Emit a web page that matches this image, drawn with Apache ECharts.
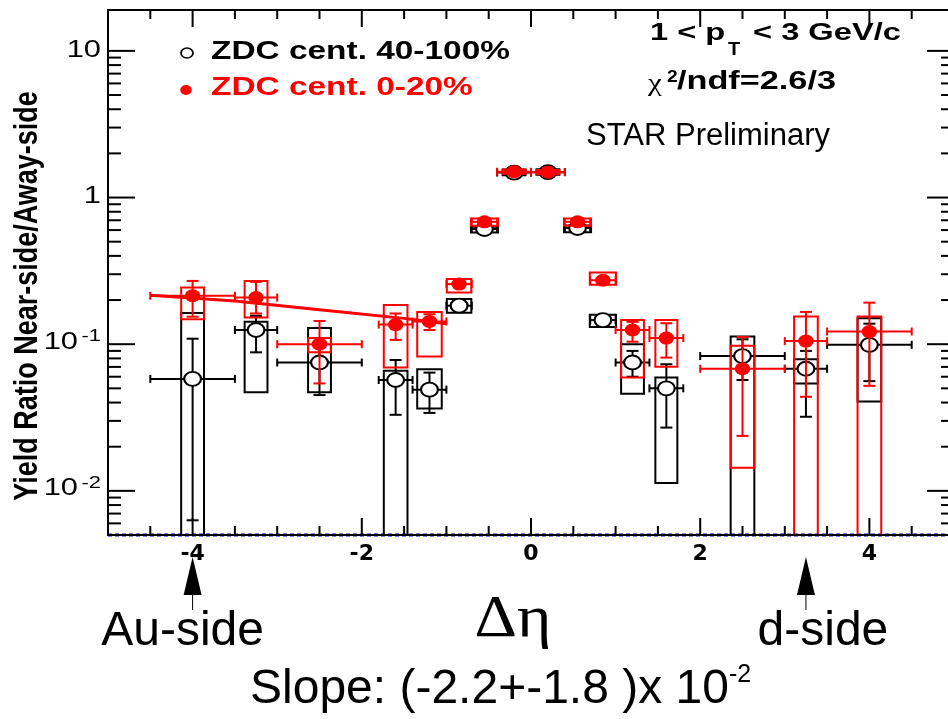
<!DOCTYPE html>
<html>
<head>
<meta charset="utf-8">
<title>Yield ratio near-side / away-side vs delta eta</title>
<script src="https://cdn.jsdelivr.net/npm/echarts@6/dist/echarts.min.js"></script>
<style>
  html, body { margin: 0; padding: 0; background: #fff; }
  #chart { width: 948px; height: 719px; }
</style>
</head>
<body>
<div id="chart"></div>
<script>
const X_MIN = -5;
const X_MAX = 5;
const Y_MIN = 0.005;
const Y_MAX = 19;

// delta-eta bins (centres, half widths, half width of the systematic boxes)
const etaBins = [-4.0, -3.25, -2.5, -1.6, -1.2, -0.85, -0.55, -0.2, 0.2, 0.55, 0.85, 1.2, 1.6, 2.5, 3.25, 4.0];
const etaErr = [0.5, 0.25, 0.5, 0.2, 0.2, 0.15, 0.15, 0.2, 0.2, 0.15, 0.15, 0.2, 0.2, 0.5, 0.25, 0.5];
const boxHalf = [0.135, 0.135, 0.135, 0.14, 0.145, 0.145, 0.16, 0.135, 0.135, 0.16, 0.155, 0.135, 0.13, 0.14, 0.14, 0.14];

// ZDC cent. 40-100%
const periphRatio = [0.058, 0.125, 0.075, 0.057, 0.049, 0.183, 0.61, 1.48, 1.49, 0.62, 0.146, 0.075, 0.050, 0.083, 0.068, 0.099];
const periphStatLo = [0.0063, 0.088, 0.045, 0.033, 0.034, 0.175, 0.59, 1.44, 1.45, 0.60, 0.140, 0.060, 0.027, 0.057, 0.032, 0.056];
const periphStatHi = [0.109, 0.156, 0.098, 0.078, 0.064, 0.190, 0.63, 1.52, 1.53, 0.64, 0.152, 0.090, 0.073, 0.108, 0.090, 0.138];
const periphSysLo = [0.001, 0.047, 0.047, 0.001, 0.0365, 0.164, 0.577, 1.42, 1.43, 0.58, 0.131, 0.046, 0.0113, 0.001, 0.054, 0.0407];
const periphSysHi = [0.163, 0.142, 0.129, 0.066, 0.0676, 0.203, 0.631, 1.55, 1.56, 0.645, 0.159, 0.100, 0.0593, 0.113, 0.079, 0.150];

// ZDC cent. 0-20%
const centralRatio = [0.214, 0.208, 0.100, 0.136, 0.143, 0.257, 0.683, 1.50, 1.49, 0.683, 0.273, 0.125, 0.110, 0.068, 0.105, 0.122];
const centralStatLo = [0.154, 0.162, 0.054, 0.107, 0.125, 0.245, 0.66, 1.45, 1.44, 0.66, 0.262, 0.104, 0.081, 0.0237, 0.0438, 0.052];
const centralStatHi = [0.270, 0.266, 0.144, 0.162, 0.160, 0.270, 0.71, 1.55, 1.54, 0.71, 0.285, 0.142, 0.139, 0.112, 0.166, 0.192];
const centralSysLo = [0.148, 0.152, 0.088, 0.0694, 0.0824, 0.225, 0.641, 1.45, 1.44, 0.641, 0.254, 0.0593, 0.0703, 0.0144, 0.001, 0.001];
const centralSysHi = [0.244, 0.270, 0.110, 0.185, 0.166, 0.278, 0.719, 1.55, 1.54, 0.719, 0.308, 0.146, 0.146, 0.0975, 0.1545, 0.1545];

// linear fit on the Au side
const fitEta = [-4.5, -3.5, -2.5, -1.5, -1.0];
const fitRatio = [0.216, 0.197, 0.172, 0.150, 0.138];

const baseEta = [X_MIN, X_MAX];

const xMajorTicks = [-4, -2, 0, 2, 4];
const xMinorTicks = [-4.5, -3.5, -3, -2.5, -1.5, -1, -0.5, 0.5, 1, 1.5, 2.5, 3, 3.5, 4.5];
const yMajorTicks = [0.01, 0.1, 1, 10];
const yLabelBase = ['10', '10', '1', '10'];
const yLabelExp = ['-2', '-1', '', ''];
const yMinorTicks = [0.006, 0.007, 0.008, 0.009,
  0.02, 0.03, 0.04, 0.05, 0.06, 0.07, 0.08, 0.09,
  0.2, 0.3, 0.4, 0.5, 0.6, 0.7, 0.8, 0.9,
  2, 3, 4, 5, 6, 7, 8, 9];

const arrowEta = [-4, 3.25];
const arrowText = ['Au-side', 'd-side'];

const RED = '#ff0000';
const BLACK = '#000000';
const ROOT_SCALE = 1.285;
const SANS = '"Liberation Sans", Arial, sans-serif';

const chart = echarts.init(document.getElementById('chart'));

function seriesData(ratio, statLo, statHi, sysLo, sysHi) {
  return etaBins.map((eta, i) => [eta, ratio[i], etaErr[i], statLo[i], statHi[i], sysLo[i], sysHi[i], boxHalf[i]]);
}

function pointRenderer(color, hollow) {
  return (params, api) => {
    const cs = params.coordSys;
    const floor = cs.y + cs.height;
    const eta = api.value(0);
    const ratio = api.value(1);
    const [px, py] = api.coord([eta, ratio]);
    const xl = api.coord([eta - api.value(2), ratio])[0];
    const xr = api.coord([eta + api.value(2), ratio])[0];
    const yl = Math.min(api.coord([eta, api.value(3)])[1], floor);
    const yh = api.coord([eta, api.value(4)])[1];
    const bl = api.coord([eta - api.value(7), ratio])[0];
    const br = api.coord([eta + api.value(7), ratio])[0];
    const bBot = api.coord([eta, api.value(5)])[1];
    const bTop = api.coord([eta, api.value(6)])[1];
    const line = (x1, y1, x2, y2) => ({
      type: 'line', shape: { x1, y1, x2, y2 }, style: { stroke: color, lineWidth: 2 }
    });
    const children = [];
    if (bBot > floor) {
      children.push({
        type: 'polyline',
        shape: { points: [[bl, floor], [bl, bTop], [br, bTop], [br, floor]] },
        style: { stroke: color, fill: 'none', lineWidth: 2 }
      });
    } else {
      children.push({
        type: 'rect',
        shape: { x: bl, y: bTop, width: br - bl, height: bBot - bTop },
        style: { stroke: color, fill: 'none', lineWidth: 2 }
      });
    }
    children.push(line(xl, py, xr, py), line(xl, py - 4, xl, py + 4), line(xr, py - 4, xr, py + 4));
    children.push(line(px, yl, px, yh), line(px - 6, yh, px + 6, yh));
    if (yl < floor) {
      children.push(line(px - 6, yl, px + 6, yl));
    }
    children.push({
      type: 'circle',
      x: px,
      y: py,
      scaleX: 1.2,
      shape: { cx: 0, cy: 0, r: hollow ? 7 : 6.5 },
      style: hollow ? { fill: '#fff', stroke: color, lineWidth: 1.8 } : { fill: color }
    });
    return { type: 'group', children };
  };
}

function xTickRenderer(params, api) {
  const cs = params.coordSys;
  const px = api.coord([api.value(0), Y_MIN])[0];
  const len = api.value(2) ? 17 : 9;
  const bottom = cs.y + cs.height;
  const st = { stroke: BLACK, lineWidth: 2 };
  return {
    type: 'group',
    children: [
      { type: 'line', shape: { x1: px, y1: bottom, x2: px, y2: bottom - len }, style: st },
      { type: 'line', shape: { x1: px, y1: cs.y, x2: px, y2: cs.y + len }, style: st }
    ]
  };
}

function labelText(str, x, y, font, align) {
  return {
    type: 'text',
    x,
    y,
    scaleX: ROOT_SCALE,
    style: { text: str, font, fill: BLACK, align, verticalAlign: 'middle' }
  };
}

// y ticks on both sides, and the decade labels on the left
function yTickRenderer(params, api) {
  const cs = params.coordSys;
  const py = api.coord([X_MIN, api.value(1)])[1];
  const major = api.value(2) === 1;
  const len = major ? 27 : 13;
  const right = cs.x + cs.width;
  const st = { stroke: BLACK, lineWidth: 2 };
  const children = [
    { type: 'line', shape: { x1: cs.x, y1: py, x2: cs.x + len, y2: py }, style: st },
    { type: 'line', shape: { x1: right, y1: py, x2: right - len, y2: py }, style: st }
  ];
  if (major) {
    const k = api.value(3);
    const edge = cs.x - 7;
    if (yLabelExp[k]) {
      children.push(labelText(yLabelExp[k], edge, py - 8, '17px ' + SANS, 'right'));
      children.push(labelText(yLabelBase[k], edge - 23, py - 2, '24px ' + SANS, 'right'));
    } else {
      children.push(labelText(yLabelBase[k], edge, py - 1, '24px ' + SANS, 'right'));
    }
  }
  return { type: 'group', children };
}

function text(str, x, y, font, opts) {
  const o = opts || {};
  return {
    type: 'text',
    x,
    y,
    scaleX: o.scaleX || 1,
    scaleY: o.scaleY || 1,
    rotation: o.rotation || 0,
    silent: true,
    style: {
      text: str,
      font,
      fill: o.fill || BLACK,
      align: o.align || 'left',
      textAlign: o.align || 'left',
      verticalAlign: 'middle',
      textVerticalAlign: 'middle'
    }
  };
}

function annotations() {
  const items = [
    // legend
    { type: 'circle', x: 187, y: 53, scaleX: 1.2, shape: { cx: 0, cy: 0, r: 5 }, style: { fill: '#fff', stroke: BLACK, lineWidth: 1.5 } },
    text('ZDC cent. 40-100%', 211, 52, 'bold 26px ' + SANS, { scaleX: ROOT_SCALE }),
    { type: 'circle', x: 186, y: 90, scaleX: 1.15, shape: { cx: 0, cy: 0, r: 5 }, style: { fill: RED } },
    text('ZDC cent. 0-20%', 211, 88, 'bold 26px ' + SANS, { scaleX: ROOT_SCALE, fill: RED }),
    // kinematic range and fit quality
    text('1 < p', 650, 33, 'bold 24px ' + SANS, { scaleX: 1.36 }),
    text('T', 728, 50, 'bold 18px ' + SANS, { scaleX: 1.1 }),
    text('< 3 GeV/c', 753, 33, 'bold 24px ' + SANS, { scaleX: 1.36 }),
    text('\u03c7', 648, 84, '26px "Liberation Serif", serif', { scaleX: 1.2 }),
    text('2', 667, 78, 'bold 16px ' + SANS, { scaleX: 1.2 }),
    text('/ndf=2.6/3', 677, 82, 'bold 25px ' + SANS, { scaleX: 1.37 }),
    text('STAR Preliminary', 586, 136, '31px ' + SANS),
    // axis titles
    text('Yield Ratio Near-side/Away-side', 28, 296, 'bold 27px ' + SANS, { rotation: Math.PI / 2, align: 'center', scaleY: 1.2 }),
    text('\u0394\u03b7', 513, 620, '60px "Liberation Serif", serif', { align: 'center', scaleX: 1.1 }),
    text('Slope: (-2.2+-1.8 )x 10', 250, 690, '48px ' + SANS),
    text('-2', 729, 675, '25px ' + SANS)
  ];

  arrowEta.forEach((eta, i) => {
    const ax = chart.convertToPixel({ xAxisIndex: 0 }, eta);
    items.push({
      type: 'polygon',
      silent: true,
      shape: { points: [[ax, 557], [ax - 9, 595], [ax + 9, 595]] },
      style: { fill: BLACK }
    });
    items.push({
      type: 'line',
      silent: true,
      shape: { x1: ax, y1: 595, x2: ax, y2: 610 },
      style: { stroke: BLACK, lineWidth: 1 }
    });
    items.push(text(arrowText[i], ax - 10 + (i === 0 ? 0 : 27), 632, '48px ' + SANS, { align: 'center' }));
  });
  return items;
}

const axisLineStyle = { show: true, onZero: false, lineStyle: { color: BLACK, width: 2 } };

chart.setOption({
  animation: false,
  backgroundColor: '#fff',
  grid: { left: 108, top: 10, width: 846, height: 525, containLabel: false, outerBoundsMode: 'none' },
  xAxis: [
    {
      type: 'value', position: 'bottom', min: X_MIN, max: X_MAX, interval: 1, z: 10,
      axisLine: axisLineStyle, axisTick: { show: false }, splitLine: { show: false },
      axisLabel: {
        margin: 8,
        color: BLACK,
        fontFamily: 'DejaVu Sans',
        fontWeight: 'bold',
        fontSize: 22,
        formatter: (v) => (xMajorTicks.indexOf(v) >= 0 ? String(v) : '')
      }
    },
    {
      type: 'value', position: 'top', min: X_MIN, max: X_MAX, interval: 1,
      axisLine: axisLineStyle, axisTick: { show: false }, splitLine: { show: false }, axisLabel: { show: false }
    }
  ],
  yAxis: [
    {
      type: 'log', logBase: 10, position: 'left', min: Y_MIN, max: Y_MAX,
      axisLine: axisLineStyle, axisTick: { show: false }, splitLine: { show: false },
      minorTick: { show: false }, axisLabel: { show: false }
    },
    {
      type: 'log', logBase: 10, position: 'right', min: Y_MIN, max: Y_MAX,
      axisLine: axisLineStyle, axisTick: { show: false }, splitLine: { show: false }, axisLabel: { show: false }
    }
  ],
  series: [
    {
      name: 'x ticks',
      type: 'custom',
      silent: true,
      renderItem: xTickRenderer,
      encode: { x: 0, y: 1 },
      data: xMajorTicks.map((v) => [v, Y_MIN, 1]).concat(xMinorTicks.map((v) => [v, Y_MIN, 0])),
      z: 8
    },
    {
      name: 'y ticks',
      type: 'custom',
      silent: true,
      renderItem: yTickRenderer,
      encode: { x: 0, y: 1 },
      data: yMajorTicks.map((v, i) => [X_MIN, v, 1, i]).concat(yMinorTicks.map((v) => [X_MIN, v, 0, -1])),
      z: 8
    },
    {
      name: 'baseline',
      type: 'line',
      silent: true,
      clip: false,
      showSymbol: false,
      data: baseEta.map((x) => [x, Y_MIN]),
      lineStyle: { color: '#0000ee', width: 3, type: [4, 3] },
      z: 1
    },
    {
      name: 'ZDC cent. 40-100%',
      type: 'custom',
      renderItem: pointRenderer(BLACK, true),
      encode: { x: 0, y: 1 },
      data: seriesData(periphRatio, periphStatLo, periphStatHi, periphSysLo, periphSysHi),
      z: 3
    },
    {
      name: 'ZDC cent. 0-20%',
      type: 'custom',
      renderItem: pointRenderer(RED, false),
      encode: { x: 0, y: 1 },
      data: seriesData(centralRatio, centralStatLo, centralStatHi, centralSysLo, centralSysHi),
      z: 4
    },
    {
      name: 'fit',
      type: 'line',
      silent: true,
      showSymbol: false,
      data: fitEta.map((x, i) => [x, fitRatio[i]]),
      lineStyle: { color: RED, width: 3 },
      z: 5
    }
  ]
});

chart.setOption({ graphic: { elements: annotations() } });
</script>
</body>
</html>
